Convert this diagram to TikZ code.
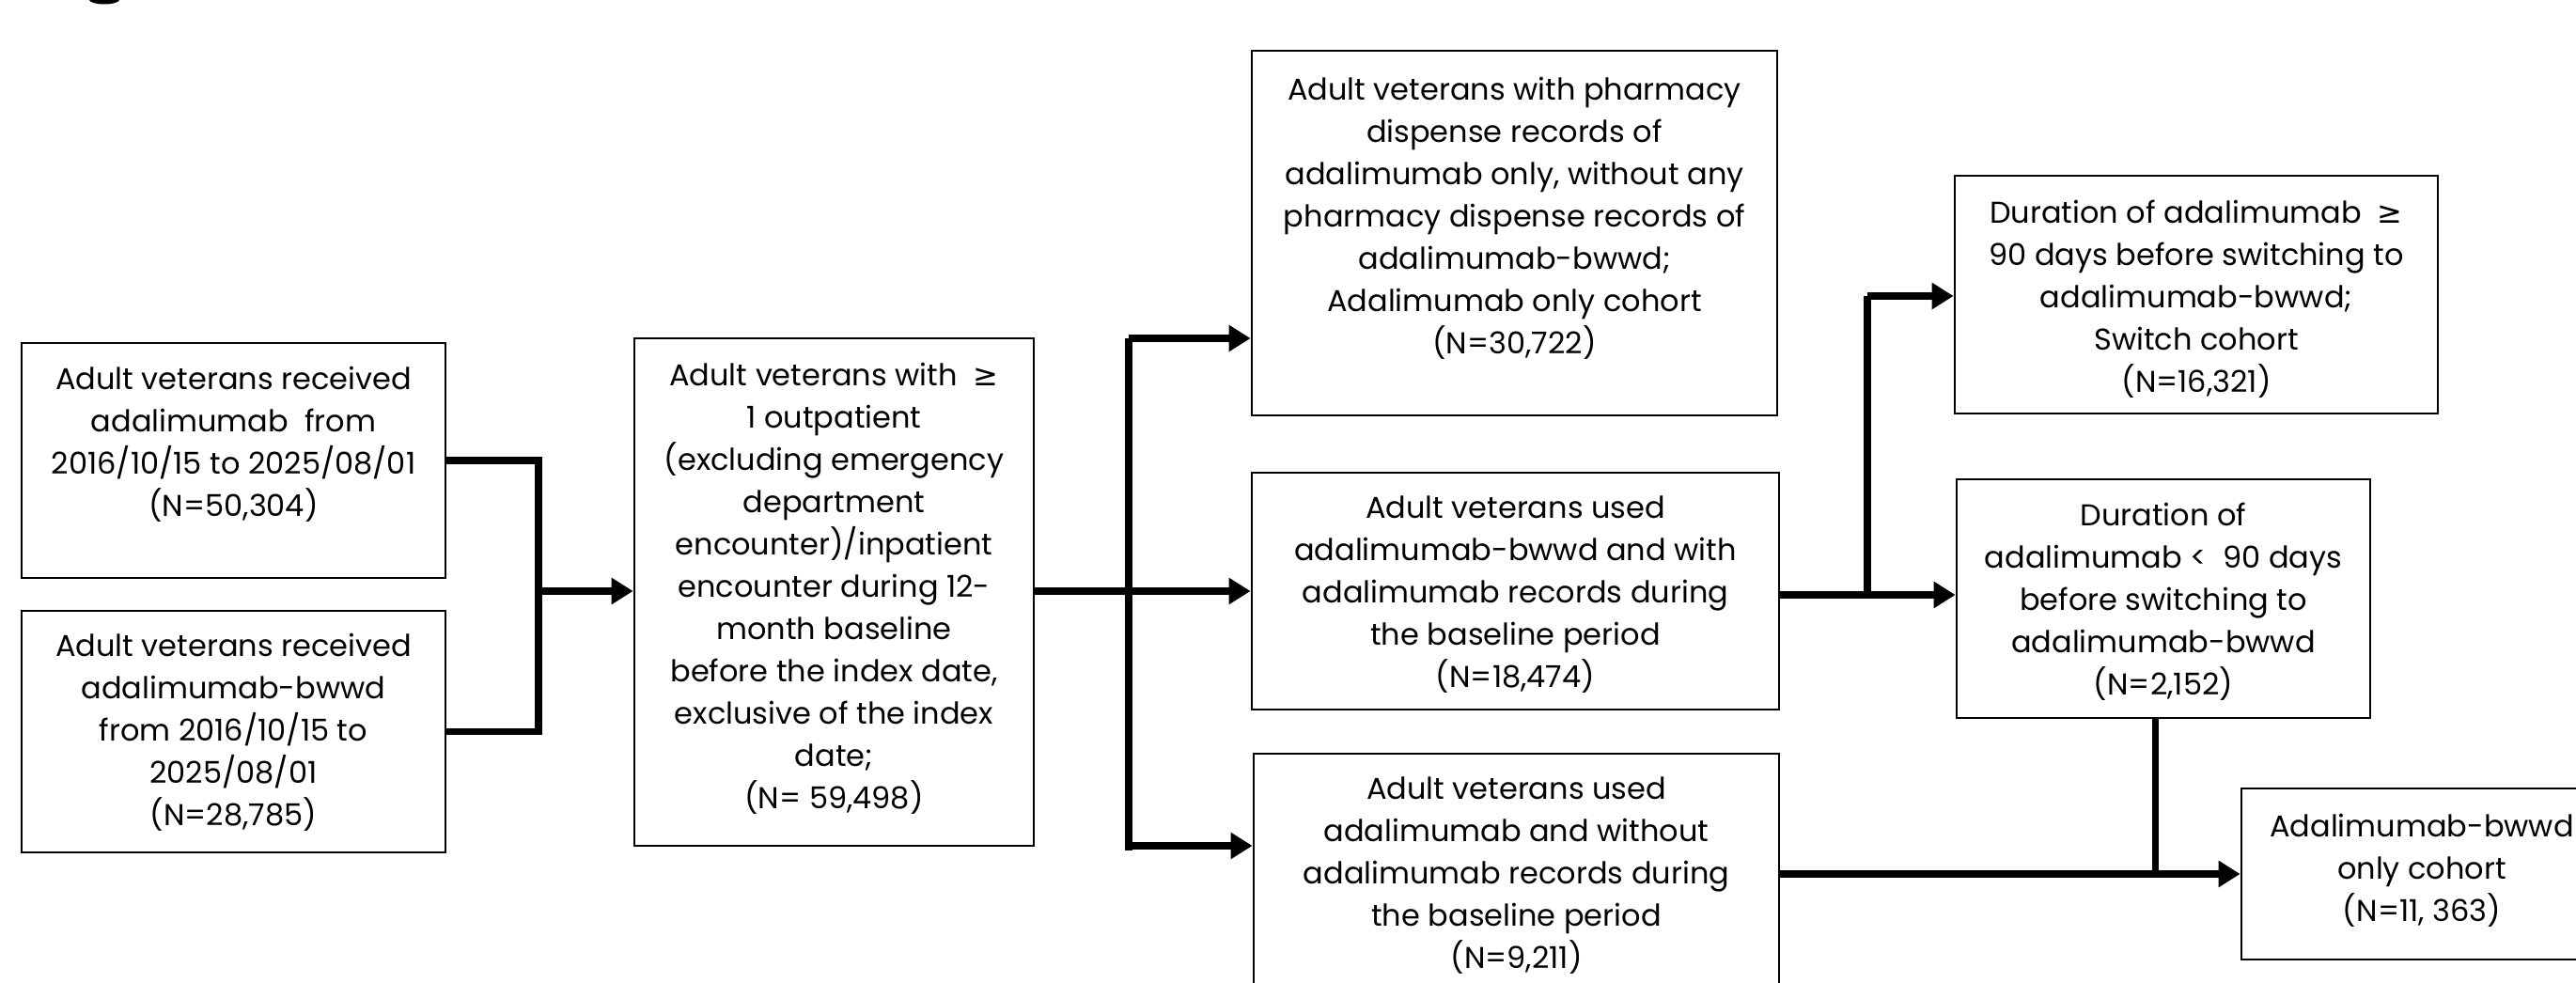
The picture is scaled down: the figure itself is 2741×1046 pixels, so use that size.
\documentclass[tikz,border=0pt]{standalone}
\usepackage{fontspec}
\setmainfont{Poppins}
\newfontfamily\symfont{DejaVu Sans}
\usetikzlibrary{arrows.meta}
\newcommand{\mygeq}{{\symfont ≥}}
\begin{document}
\begin{tikzpicture}[x=0.01cm,y=-0.01cm,
  box/.style={draw=black, line width=0.7pt, inner sep=0pt},
  txt/.style={align=center, inner sep=0pt, font=\fontsize{9.1}{12.8}\selectfont},
  link/.style={line width=2pt},
  arr/.style={link, -{Triangle[length=0.23cm,width=0.27cm]}}]
\useasboundingbox (0,0) rectangle (2741,1046);
% cut-off glyph at top-left
\fill[black] (95,0) .. controls (97,6) and (125,6) .. (127,0) -- cycle;

% boxes
\node[box, minimum width=4.51cm, minimum height=2.50cm] (A1) at (248.5,490) {};
\node[box, minimum width=4.51cm, minimum height=2.57cm] (A2) at (248.5,778.5) {};
\node[box, minimum width=4.25cm, minimum height=5.40cm] (B) at (887.5,630) {};
\node[box, minimum width=5.59cm, minimum height=3.88cm] (C1) at (1611.5,248) {};
\node[box, minimum width=5.61cm, minimum height=2.52cm] (C2) at (1612.5,629) {};
\node[box, minimum width=5.59cm, minimum height=2.58cm] (C3) at (1613.5,931) {};
\node[box, minimum width=5.14cm, minimum height=2.53cm] (D1) at (2337,313.5) {};
\node[box, minimum width=4.40cm, minimum height=2.54cm] (D2) at (2302,637) {};
\node[box, minimum width=3.84cm, minimum height=1.82cm] (E) at (2577,930) {};

% texts
\node[txt] (tA1) at (248.5,473) {Adult veterans received\\adalimumab\ \ from\\2016/10/15 to 2025/08/01\\(N=50,304)};
\node[txt] (tA2) at (248.5,779) {Adult veterans received\\adalimumab-bwwd\\from 2016/10/15 to\\2025/08/01\\(N=28,785)};
\node[txt] (tB) at (887.5,626) {Adult veterans with\ \ \mygeq\\1 outpatient\\(excluding emergency\\department\\encounter)/inpatient\\encounter during 12-\\month baseline\\before the index date,\\exclusive of the index\\date;\\(N= 59,498)};
\node[txt] (tC1) at (1611.5,232.5) {Adult veterans with pharmacy\\dispense records of\\adalimumab only, without any\\pharmacy dispense records of\\adalimumab-bwwd;\\Adalimumab only cohort\\(N=30,722)};
\node[txt] (tC2) at (1612.5,633) {Adult veterans used\\adalimumab-bwwd and with\\adalimumab records during\\the baseline period\\(N=18,474)};
\node[txt] (tC3) at (1613.5,932) {Adult veterans used\\adalimumab and without\\adalimumab records during\\the baseline period\\(N=9,211)};
\node[txt] (tD1) at (2337,318) {Duration of adalimumab\ \ \mygeq\\90 days before switching to\\adalimumab-bwwd;\\Switch cohort\\(N=16,321)};
\node[txt] (tD2) at (2302,640) {Duration of\\adalimumab <\ \ 90 days\\before switching to\\adalimumab-bwwd\\(N=2,152)};
\node[txt] (tE) at (2577,926) {Adalimumab-bwwd\\only cohort\\(N=11, 363)};

% junction coordinates
\coordinate (jA) at (573,629);
\coordinate (jBtop) at (1201,360);
\coordinate (jB) at (1201,629);
\coordinate (jBlow) at (1201,900);
\coordinate (jBend) at (1201,905);
\coordinate (jCtop) at (1987,315);
\coordinate (jC) at (1987,633);
\coordinate (jD) at (2293,930);

% connectors: inputs to B
\draw[link] (A1.east) -| (jA);
\draw[link] (A2.east) -| (jA);
\draw[arr] (jA) -- (jA -| B.west);

% B to C boxes
\draw[link] (B.east |- jB) -- (jB);
\draw[link] (jBtop) -- (jBend);
\draw[arr] (jBtop) -- (jBtop -| C1.west);
\draw[arr] (jB) -- (jB -| C2.west);
\draw[arr] (jBlow) -- (jBlow -| C3.west);

% C2 to D boxes
\draw[link] (C2.east |- jC) -- (jC);
\draw[link] (jC) -- (jCtop);
\draw[arr] (jCtop) -- (jCtop -| D1.west);
\draw[arr] (jC) -- (jC -| D2.west);

% C3 and D2 to E
\draw[link] (jD |- D2.south) -- (jD);
\draw[arr] (C3.east |- jD) -- (jD -| E.west);
\end{tikzpicture}
\end{document}
